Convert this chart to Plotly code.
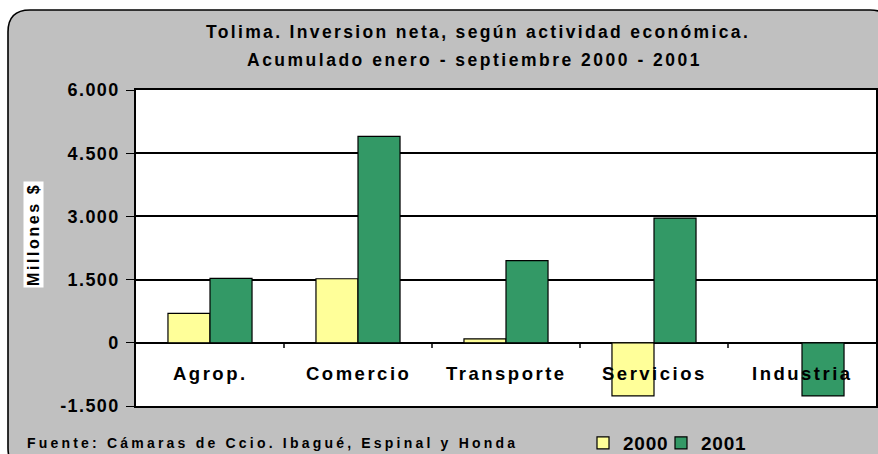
import plotly.graph_objects as go

categories = ["Agrop.", "Comercio", "Transporte", "Servicios", "Industria"]
series_names = ["2000", "2001"]
values_2000 = [700, 1520, 95, -1260, 0]
values_2001 = [1530, 4900, 1950, 2960, -1260]
tick_values = [-1500, 0, 1500, 3000, 4500, 6000]
tick_labels = ["-1.500", "0", "1.500", "3.000", "4.500", "6.000"]
title_lines = ["Tolima. Inversion neta, según actividad económica.",
               "Acumulado enero - septiembre 2000 - 2001"]
y_title = "Millones $"
source_text = "Fuente: Cámaras de Ccio. Ibagué, Espinal y Honda"

colors = ["#FFFF99", "#339966"]
FONT = "Liberation Sans, Arial, sans-serif"

W, H = 878, 454
L, R, T, B = 136, 2, 90, 48
PW, PH = W - L - R, H - T - B


def px(x):
    return (x - L) / PW


def py(y):
    return (H - B - y) / PH


def sp(text, s):
    return f'<span style="letter-spacing:{s}px"><b>{text}</b></span>'


legend_ids = ["legend", "legend2"]
legend_left = [583, 661]

fig = go.Figure()
for name, vals, col, lid in zip(series_names, [values_2000, values_2001], colors, legend_ids):
    fig.add_trace(go.Bar(
        x=categories, y=vals, name=sp(name, 0.8), legend=lid,
        marker=dict(color=col, line=dict(color="black", width=1.2)),
    ))

# rounded grey frame
x0, x1, y0, y1, r = 8, 892, 10, 470, 22
path = (f"M {px(x0)},{py(y0 + r)} Q {px(x0)},{py(y0)} {px(x0 + r)},{py(y0)} "
        f"L {px(x1 - r)},{py(y0)} Q {px(x1)},{py(y0)} {px(x1)},{py(y0 + r)} "
        f"L {px(x1)},{py(y1 - r)} Q {px(x1)},{py(y1)} {px(x1 - r)},{py(y1)} "
        f"L {px(x0 + r)},{py(y1)} Q {px(x0)},{py(y1)} {px(x0)},{py(y1 - r)} Z")
shapes = [
    dict(type="path", path=path, xref="paper", yref="paper", layer="below",
         fillcolor="#C0C0C0", line=dict(color="black", width=1.6)),
    dict(type="rect", xref="paper", yref="paper", x0=0, x1=1, y0=0, y1=1,
         layer="below", fillcolor="white", line=dict(width=0)),
]
for i in range(len(categories) - 1):
    shapes.append(dict(type="line", xref="x", yref="y", x0=i + 0.5, x1=i + 0.5,
                       y0=0, y1=-125, line=dict(color="black", width=1.5)))

annotations = []
for i, c in enumerate(categories):
    annotations.append(dict(x=i, y=-720, xref="x", yref="y", text=sp(c, 2.5),
                            showarrow=False, xanchor="center", yanchor="middle",
                            font=dict(family=FONT, size=18.5, color="black")))
annotations.append(dict(x=px(478), y=py(32), xref="paper", yref="paper",
                        text=sp(title_lines[0], 2.35), showarrow=False,
                        xanchor="center", yanchor="middle",
                        font=dict(family=FONT, size=17.5, color="black")))
annotations.append(dict(x=px(474), y=py(60), xref="paper", yref="paper",
                        text=sp(title_lines[1], 2.5), showarrow=False,
                        xanchor="center", yanchor="middle",
                        font=dict(family=FONT, size=17.5, color="black")))
annotations.append(dict(x=px(33.5), y=py(234.5), xref="paper", yref="paper",
                        text=sp(y_title, 2.6), showarrow=False, textangle=-90,
                        xanchor="center", yanchor="middle",
                        bgcolor="white", borderpad=1,
                        font=dict(family=FONT, size=16, color="black")))
annotations.append(dict(x=px(25), y=py(443), xref="paper", yref="paper",
                        text=sp(source_text, 3.2), showarrow=False,
                        xanchor="left", yanchor="middle",
                        font=dict(family=FONT, size=14, color="black")))

legend_style = dict(orientation="h", xanchor="left", yanchor="middle",
                    bgcolor="rgba(0,0,0,0)", borderwidth=0, itemwidth=30,
                    font=dict(family=FONT, size=19, color="black"))

fig.update_layout(
    width=W, height=H, autosize=False,
    margin=dict(l=L, r=R, t=T, b=B, autoexpand=False),
    paper_bgcolor="white", plot_bgcolor="rgba(0,0,0,0)",
    barmode="group", bargap=0.432, bargroupgap=0,
    shapes=shapes, annotations=annotations,
    showlegend=True,
    legend=dict(x=px(legend_left[0]), y=py(443), **legend_style),
    legend2=dict(x=px(legend_left[1]), y=py(443), **legend_style),
    font=dict(family=FONT, color="black"),
)
fig.update_xaxes(range=[-0.5, 4.5], showticklabels=False, showgrid=False,
                 showline=True, mirror=True, linecolor="black", linewidth=1.5,
                 ticks="", zeroline=False)
fig.update_yaxes(range=[-1500, 6000], tickvals=tick_values,
                 ticktext=[sp(t, 1.4) for t in tick_labels],
                 showgrid=True, gridcolor="black", gridwidth=1.5,
                 zeroline=True, zerolinecolor="black", zerolinewidth=1.5,
                 showline=True, mirror=True, linecolor="black", linewidth=1.5,
                 ticks="outside", ticklen=8, tickcolor="black", tickwidth=1.2,
                 ticklabelstandoff=3,
                 tickfont=dict(family=FONT, size=18, color="black"))

fig.write_html("out.html", config={"displayModeBar": False},
               post_script="document.body.style.margin='0px';")
